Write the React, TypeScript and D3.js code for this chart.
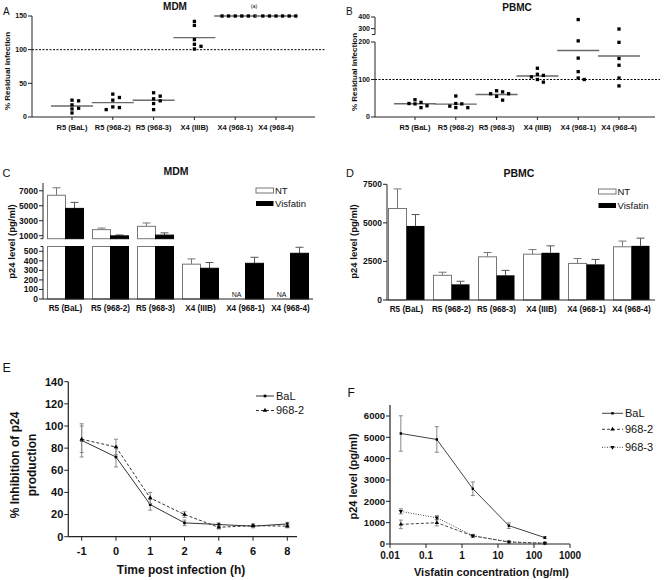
import React from "react";
import * as d3 from "d3";

// ---------- DATA ----------
const strains = ["R5 (BaL)", "R5 (968-2)", "R5 (968-3)", "X4 (IIIB)", "X4 (968-1)", "X4 (968-4)"];

// Panel A: % residual infection, MDM (6 donors per strain)
const mdmResidual: number[][] = [
  [24, 18, 25, 13, 12, 6],
  [29, 25, 34, 15, 11, 14],
  [24, 31, 36, 27, 20, 11],
  [136, 142, 108, 115, 105, 101],
  [150, 150, 150, 150, 150, 150],
  [150, 150, 150, 150, 150, 150],
];
const mdmTicks = [0, 50, 100, 150];

// Panel B: % residual infection, PBMC
const pbmcResidual: number[][] = [
  [39, 35, 46, 25, 30, 36],
  [36, 29, 56, 25, 25, 35],
  [70, 62, 62, 45, 67, 55],
  [114, 107, 130, 111, 93, 100],
  [378, 203, 157, 121, 100, 104],
  [297, 199, 156, 138, 104, 83],
];
const pbmcTicksLow = [0, 100, 200];
const pbmcTicksHigh = [300, 400];

// Panel C: p24 MDM
const mdmNT: (number | null)[] = [6400, 1810, 2250, 365, null, null];
const mdmNTErr: (number | null)[] = [1000, 210, 450, 55, null, null];
const mdmVis: number[] = [4650, 980, 1080, 322, 374, 479];
const mdmVisErr: number[] = [800, 120, 300, 60, 63, 63];
const mdmTicksHigh = [1000, 3000, 5000, 7000];
const mdmTicksLow = [0, 100, 200, 300, 400, 500];

// Panel D: p24 PBMC
const pbmcNT: number[] = [5930, 1600, 2800, 2970, 2370, 3450];
const pbmcNTErr: number[] = [1270, 200, 280, 300, 320, 370];
const pbmcVis: number[] = [4800, 1015, 1600, 3060, 2310, 3510];
const pbmcVisErr: number[] = [740, 200, 320, 450, 320, 500];
const pbmcBarTicks = [0, 2500, 5000, 7500];

// Panel E: % inhibition vs time
const timePoints = ["-1", "0", "1", "2", "4", "6", "8"];
const balInhib = [87, 72, 29, 12.5, 11, 9.5, 11.5];
const balInhibErr = [15, 9, 5, 2.5, 1.5, 1.5, 1.5];
const s9682Inhib = [88, 81, 35, 20, 8.5, 10, 9.5];
const s9682InhibErr = [12, 7, 5, 2.5, 1.5, 1.5, 1.5];
const inhibTicks = [0, 20, 40, 60, 80, 100, 120, 140];

// Panel F: p24 vs visfatin concentration
const concentrations = [0.02, 0.2, 2, 20, 200];
const balP24 = [5180, 4900, 2590, 860, 300];
const balP24Err = [830, 600, 320, 130, 40];
const s9682P24 = [920, 1000, 380, 95, 30];
const s9682P24Err = [200, 150, 60, 30, 10];
const s9683P24 = [1530, 1230, 390, 100, 45];
const s9683P24Err = [120, 100, 50, 30, 10];
const concTicks = [0.01, 0.1, 1, 10, 100, 1000];
const concTickLabels = ["0.01", "0.1", "1", "10", "100", "1000"];
const p24Ticks = [0, 1000, 2000, 3000, 4000, 5000, 6000];

// ---------- HELPERS ----------
const FONT = "'Liberation Sans', Arial, Helvetica, sans-serif";
const AX = "#222";

function beeswarm(values: number[], y: (v: number) => number, step: number, minDy: number) {
  const order = values.map((_, i) => i).sort((a, b) => values[b] - values[a]);
  const placed: { dx: number; py: number }[] = [];
  const offsets = new Array(values.length).fill(0);
  const ks = [0, 1, -1, 2, -2, 3, -3, 4, -4];
  for (const i of order) {
    const py = y(values[i]);
    for (const k of ks) {
      const dx = k * step;
      if (!placed.some((p) => Math.abs(p.dx - dx) < step * 0.9 && Math.abs(p.py - py) < minDy)) {
        offsets[i] = dx;
        placed.push({ dx, py });
        break;
      }
    }
  }
  return offsets;
}

const square = d3.symbol().type(d3.symbolSquare);
const triangle = d3.symbol().type(d3.symbolTriangle);

function ScatterGroup({ data, x, y, step }: { data: number[][]; x: d3.ScalePoint<string>; y: (v: number) => number; step: number }) {
  return (
    <g>
      {data.map((vals, ci) => {
        const cx = x(strains[ci]) as number;
        const offs = beeswarm(vals, y, step, 4);
        const m = d3.mean(vals) as number;
        return (
          <g key={ci}>
            <line x1={cx - 21} x2={cx + 21} y1={y(m)} y2={y(m)} stroke="#6a6a6a" strokeWidth={1.4} />
            {vals.map((v, j) => (
              <path key={j} d={square.size(11)() as string} transform={`translate(${cx + offs[j]},${y(v)})`} fill="#000" />
            ))}
          </g>
        );
      })}
    </g>
  );
}

function YTicks({ ticks, y, x0, fs, fmt }: { ticks: number[]; y: (v: number) => number; x0: number; fs: number; fmt?: (v: number) => string }) {
  return (
    <g>
      {ticks.map((t) => (
        <g key={t}>
          <line x1={x0 - 4} x2={x0} y1={y(t)} y2={y(t)} stroke={AX} />
          <text x={x0 - 5} y={y(t)} dy="0.35em" textAnchor="end" fontSize={fs} fontWeight="bold">
            {fmt ? fmt(t) : String(t)}
          </text>
        </g>
      ))}
    </g>
  );
}

// ---------- PANELS ----------
function PanelA() {
  const x = d3.scalePoint<string>().domain(strains).range([72, 276]);
  const y = d3.scaleLinear().domain([0, 150]).range([117, 16]);
  return (
    <g>
      <text x={3} y={15} fontSize={10}>A</text>
      <text x={175} y={10} fontSize={10} fontWeight="bold" textAnchor="middle">MDM</text>
      <text x={254} y={7.5} fontSize={5.5} textAnchor="middle">(a)</text>
      <line x1={32} x2={325} y1={y(100)} y2={y(100)} stroke="#000" strokeDasharray="2,1.5" />
      <line x1={32} x2={32} y1={y(150)} y2={y(0)} stroke={AX} />
      <line x1={32} x2={315} y1={y(0)} y2={y(0)} stroke={AX} />
      <YTicks ticks={mdmTicks} y={y} x0={32} fs={7} />
      {strains.map((s) => (
        <g key={s}>
          <line x1={x(s)} x2={x(s)} y1={y(0)} y2={y(0) + 3} stroke={AX} />
          <text x={x(s)} y={130} textAnchor="middle" fontSize={7.5} fontWeight="bold">{s}</text>
        </g>
      ))}
      <text transform="translate(10,71) rotate(-90)" textAnchor="middle" fontSize={8} fontWeight="bold">% Residual infection</text>
      <ScatterGroup data={mdmResidual} x={x} y={y} step={6.6} />
    </g>
  );
}

function PanelB() {
  const x = d3.scalePoint<string>().domain(strains).range([415, 619]);
  const low = d3.scaleLinear().domain([0, 200]).range([117, 42]);
  const high = d3.scaleLinear().domain([250, 400]).range([34.5, 17]);
  const y = (v: number) => (v <= 240 ? low(v) : high(v));
  return (
    <g>
      <text x={346} y={15} fontSize={10}>B</text>
      <text x={517} y={10.5} fontSize={10} fontWeight="bold" textAnchor="middle">PBMC</text>
      <line x1={375} x2={660} y1={y(100)} y2={y(100)} stroke="#000" strokeDasharray="2,1.5" />
      <line x1={375} x2={375} y1={high(400)} y2={high(250)} stroke={AX} />
      <line x1={372} x2={375} y1={high(250)} y2={high(250)} stroke={AX} />
      <line x1={375} x2={375} y1={low(200)} y2={low(0)} stroke={AX} />
      <line x1={375} x2={655} y1={low(0)} y2={low(0)} stroke={AX} />
      <YTicks ticks={pbmcTicksLow} y={low} x0={375} fs={7} />
      <YTicks ticks={pbmcTicksHigh} y={high} x0={375} fs={7} />
      {strains.map((s) => (
        <g key={s}>
          <line x1={x(s)} x2={x(s)} y1={low(0)} y2={low(0) + 3} stroke={AX} />
          <text x={x(s)} y={130} textAnchor="middle" fontSize={7.5} fontWeight="bold">{s}</text>
        </g>
      ))}
      <text transform="translate(356.5,72) rotate(-90)" textAnchor="middle" fontSize={8} fontWeight="bold">% Residual infection</text>
      <ScatterGroup data={pbmcResidual} x={x} y={y} step={6} />
    </g>
  );
}

function ErrBar({ cx, y0, y1, w, color }: { cx: number; y0: number; y1: number; w: number; color: string }) {
  return (
    <g stroke={color}>
      <line x1={cx} x2={cx} y1={y0} y2={y1} />
      <line x1={cx - w / 2} x2={cx + w / 2} y1={y1} y2={y1} />
    </g>
  );
}

function Legend2({ x, y1, y2 }: { x: number; y1: number; y2: number }) {
  return (
    <g fontSize={9.5}>
      <rect x={x} y={y1 - 2.5} width={17.5} height={5} fill="#fff" stroke="#777" />
      <text x={x + 19} y={y1} dy="0.35em">NT</text>
      <rect x={x} y={y2 - 2.5} width={17.5} height={5} fill="#000" />
      <text x={x + 19} y={y2} dy="0.35em">Visfatin</text>
    </g>
  );
}

function PanelC() {
  const x = d3.scaleBand<string>().domain(strains).range([43, 313]).paddingInner(0.2).paddingOuter(0.1);
  const bw = x.bandwidth() / 2;
  const low = d3.scaleLinear().domain([0, 550]).range([299, 246.5]);
  const high = d3.scaleLinear().domain([600, 8000]).range([238.7, 183.3]);
  const bar = (x0: number, v: number, fill: string, stroke: string) => {
    if (v <= 550) return <rect x={x0} y={low(v)} width={bw} height={low(0) - low(v)} fill={fill} stroke={stroke} />;
    return (
      <g>
        <rect x={x0} y={low(550)} width={bw} height={low(0) - low(550)} fill={fill} stroke={stroke} />
        <rect x={x0} y={high(v)} width={bw} height={high(600) - high(v)} fill={fill} stroke={stroke} />
      </g>
    );
  };
  const ys = (v: number) => (v <= 550 ? low(v) : high(v));
  return (
    <g>
      <text x={2.5} y={177} fontSize={11}>C</text>
      <text x={176} y={174.5} fontSize={10.5} fontWeight="bold" textAnchor="middle">MDM</text>
      {strains.map((s, i) => {
        const x0 = x(s) as number;
        const nt = mdmNT[i];
        const nte = mdmNTErr[i];
        return (
          <g key={s}>
            {nt !== null && nte !== null ? (
              <g>
                <ErrBar cx={x0 + bw / 2} y0={ys(nt)} y1={ys(nt + nte)} w={8} color="#777" />
                {bar(x0, nt, "#fff", "#777")}
              </g>
            ) : (
              <text x={x0 + bw / 2} y={294.5} dy="0.35em" textAnchor="middle" fontSize={7}>NA</text>
            )}
            <ErrBar cx={x0 + bw * 1.5} y0={ys(mdmVis[i])} y1={ys(mdmVis[i] + mdmVisErr[i])} w={8} color="#555" />
            {bar(x0 + bw, mdmVis[i], "#000", "#000")}
            <text x={x0 + bw} y={311} textAnchor="middle" fontSize={8.2} fontWeight="bold">{s}</text>
          </g>
        );
      })}
      <line x1={43} x2={43} y1={183} y2={high(600)} stroke={AX} />
      <line x1={40.5} x2={43} y1={high(600)} y2={high(600)} stroke={AX} />
      <line x1={43} x2={43} y1={low(550)} y2={low(0)} stroke={AX} />
      <line x1={40.5} x2={43} y1={low(550)} y2={low(550)} stroke={AX} />
      <line x1={43} x2={313} y1={low(0)} y2={low(0)} stroke={AX} />
      <YTicks ticks={mdmTicksHigh} y={high} x0={43} fs={8.5} />
      <YTicks ticks={mdmTicksLow} y={low} x0={43} fs={8.5} />
      <text transform="translate(15,241.5) rotate(-90)" textAnchor="middle" fontSize={9.5} fontWeight="bold">p24 level (pg/ml)</text>
      <Legend2 x={256} y1={190.5} y2={203.5} />
    </g>
  );
}

function PanelD() {
  const x = d3.scaleBand<string>().domain(strains).range([384, 654]).paddingInner(0.2).paddingOuter(0.1);
  const bw = x.bandwidth() / 2;
  const y = d3.scaleLinear().domain([0, 7500]).range([300, 184.3]);
  return (
    <g>
      <text x={346} y={177} fontSize={11}>D</text>
      <text x={519} y={176.5} fontSize={10.5} fontWeight="bold" textAnchor="middle">PBMC</text>
      {strains.map((s, i) => {
        const x0 = x(s) as number;
        return (
          <g key={s}>
            <ErrBar cx={x0 + bw / 2} y0={y(pbmcNT[i])} y1={y(pbmcNT[i] + pbmcNTErr[i])} w={8} color="#777" />
            <rect x={x0} y={y(pbmcNT[i])} width={bw} height={y(0) - y(pbmcNT[i])} fill="#fff" stroke="#777" />
            <ErrBar cx={x0 + bw * 1.5} y0={y(pbmcVis[i])} y1={y(pbmcVis[i] + pbmcVisErr[i])} w={8} color="#555" />
            <rect x={x0 + bw} y={y(pbmcVis[i])} width={bw} height={y(0) - y(pbmcVis[i])} fill="#000" />
            <text x={x0 + bw} y={312} textAnchor="middle" fontSize={8.2} fontWeight="bold">{s}</text>
          </g>
        );
      })}
      <line x1={387} x2={387} y1={y(7500)} y2={y(0)} stroke={AX} />
      <line x1={387} x2={655} y1={y(0)} y2={y(0)} stroke={AX} />
      <YTicks ticks={pbmcBarTicks} y={y} x0={387} fs={8.5} />
      <text transform="translate(356.5,241.5) rotate(-90)" textAnchor="middle" fontSize={9.5} fontWeight="bold">p24 level (pg/ml)</text>
      <Legend2 x={598.5} y1={191.5} y2={205.5} />
    </g>
  );
}

function PanelE() {
  const x = d3.scalePoint<string>().domain(timePoints).range([81.7, 287.3]);
  const y = d3.scaleLinear().domain([0, 140]).range([536.7, 381.7]);
  const line = (vals: number[]) =>
    d3.line<number>().x((_, i) => x(timePoints[i]) as number).y((v) => y(v))(vals) as string;
  const series = [
    { vals: balInhib, err: balInhibErr, dash: undefined, sym: square.size(7)() as string, name: "BaL" },
    { vals: s9682Inhib, err: s9682InhibErr, dash: "3,2", sym: triangle.size(9)() as string, name: "968-2" },
  ];
  const legY = [396, 410.5];
  return (
    <g>
      <text x={2.5} y={372} fontSize={12.5}>E</text>
      {series.map((s, k) => (
        <g key={k}>
          {s.vals.map((v, i) => {
            const cx = x(timePoints[i]) as number;
            return (
              <g key={i} stroke="#888">
                <line x1={cx} x2={cx} y1={y(v - s.err[i])} y2={y(v + s.err[i])} />
                <line x1={cx - 2} x2={cx + 2} y1={y(v - s.err[i])} y2={y(v - s.err[i])} />
                <line x1={cx - 2} x2={cx + 2} y1={y(v + s.err[i])} y2={y(v + s.err[i])} />
              </g>
            );
          })}
          <path d={line(s.vals)} fill="none" stroke="#333" strokeWidth={1} strokeDasharray={s.dash} />
          {s.vals.map((v, i) => (
            <path key={i} d={s.sym} transform={`translate(${x(timePoints[i])},${y(v)})`} fill="#000" />
          ))}
          <line x1={256} x2={274} y1={legY[k]} y2={legY[k]} stroke="#333" strokeDasharray={s.dash} />
          <path d={s.sym} transform={`translate(265,${legY[k]})`} fill="#000" />
          <text x={276} y={legY[k]} dy="0.35em" fontSize={11}>{s.name}</text>
        </g>
      ))}
      <line x1={68.3} x2={68.3} y1={y(140)} y2={y(0)} stroke={AX} strokeWidth={1.2} />
      <line x1={68.3} x2={297} y1={y(0)} y2={y(0)} stroke={AX} strokeWidth={1.2} />
      <YTicks ticks={inhibTicks} y={y} x0={68.3} fs={11} />
      {timePoints.map((t) => (
        <g key={t}>
          <line x1={x(t)} x2={x(t)} y1={y(0)} y2={y(0) + 4} stroke={AX} />
          <text x={x(t)} y={555} textAnchor="middle" fontSize={11} fontWeight="bold">{t}</text>
        </g>
      ))}
      <text x={181} y={574} textAnchor="middle" fontSize={12} fontWeight="bold">Time post infection (h)</text>
      <text transform="translate(18.5,465) rotate(-90)" textAnchor="middle" fontSize={12} fontWeight="bold">% Inhibition of p24</text>
      <text transform="translate(36,465) rotate(-90)" textAnchor="middle" fontSize={12} fontWeight="bold">production</text>
    </g>
  );
}

function PanelF() {
  const x = d3.scaleLog().domain([0.01, 1000]).range([390, 570]);
  const y = d3.scaleLinear().domain([0, 6000]).range([544, 416]);
  const line = (vals: number[]) =>
    d3.line<number>().x((_, i) => x(concentrations[i])).y((v) => y(v))(vals) as string;
  const series = [
    { vals: balP24, err: balP24Err, dash: undefined, sym: square.size(6)() as string, rot: 0, name: "BaL" },
    { vals: s9682P24, err: s9682P24Err, dash: "3,2", sym: triangle.size(8)() as string, rot: 0, name: "968-2" },
    { vals: s9683P24, err: s9683P24Err, dash: "1,1.5", sym: triangle.size(8)() as string, rot: 180, name: "968-3" },
  ];
  const legY = [413.3, 429.3, 447.3];
  return (
    <g>
      <text x={347.5} y={397} fontSize={12}>F</text>
      {series.map((s, k) => (
        <g key={k}>
          {s.vals.map((v, i) => {
            const cx = x(concentrations[i]);
            return (
              <g key={i} stroke="#888">
                <line x1={cx} x2={cx} y1={y(Math.max(0, v - s.err[i]))} y2={y(v + s.err[i])} />
                <line x1={cx - 2} x2={cx + 2} y1={y(Math.max(0, v - s.err[i]))} y2={y(Math.max(0, v - s.err[i]))} />
                <line x1={cx - 2} x2={cx + 2} y1={y(v + s.err[i])} y2={y(v + s.err[i])} />
              </g>
            );
          })}
          <path d={line(s.vals)} fill="none" stroke="#444" strokeWidth={1} strokeDasharray={s.dash} />
          {s.vals.map((v, i) => (
            <path key={i} d={s.sym} transform={`translate(${x(concentrations[i])},${y(v)}) rotate(${s.rot})`} fill="#000" />
          ))}
          <line x1={602} x2={623} y1={legY[k]} y2={legY[k]} stroke="#444" strokeDasharray={s.dash} />
          <path d={s.sym} transform={`translate(612.5,${legY[k]}) rotate(${s.rot})`} fill="#000" />
          <text x={625} y={legY[k]} dy="0.35em" fontSize={11}>{s.name}</text>
        </g>
      ))}
      <line x1={390} x2={390} y1={405} y2={y(0)} stroke={AX} strokeWidth={1.2} />
      <line x1={390} x2={570} y1={y(0)} y2={y(0)} stroke={AX} strokeWidth={1.2} />
      <YTicks ticks={p24Ticks} y={y} x0={390} fs={9.5} />
      {concTicks.map((t, i) => (
        <g key={t}>
          <line x1={x(t)} x2={x(t)} y1={y(0)} y2={y(0) + 4} stroke={AX} />
          <text x={x(t)} y={559} textAnchor="middle" fontSize={10} fontWeight="bold">{concTickLabels[i]}</text>
        </g>
      ))}
      <text x={491.5} y={576} textAnchor="middle" fontSize={11} fontWeight="bold">Visfatin concentration (ng/ml)</text>
      <text transform="translate(356.5,476.5) rotate(-90)" textAnchor="middle" fontSize={11} fontWeight="bold">p24 level (pg/ml)</text>
    </g>
  );
}

export default function App() {
  return (
    <svg
      width={664}
      height={580}
      viewBox="0 0 664 580"
      style={{ position: "absolute", left: 0, top: 0, background: "#fff" }}
      fontFamily={FONT}
      fill="#111"
    >
      <rect x={0} y={0} width={664} height={580} fill="#fff" />
      <PanelA />
      <PanelB />
      <PanelC />
      <PanelD />
      <PanelE />
      <PanelF />
    </svg>
  );
}
